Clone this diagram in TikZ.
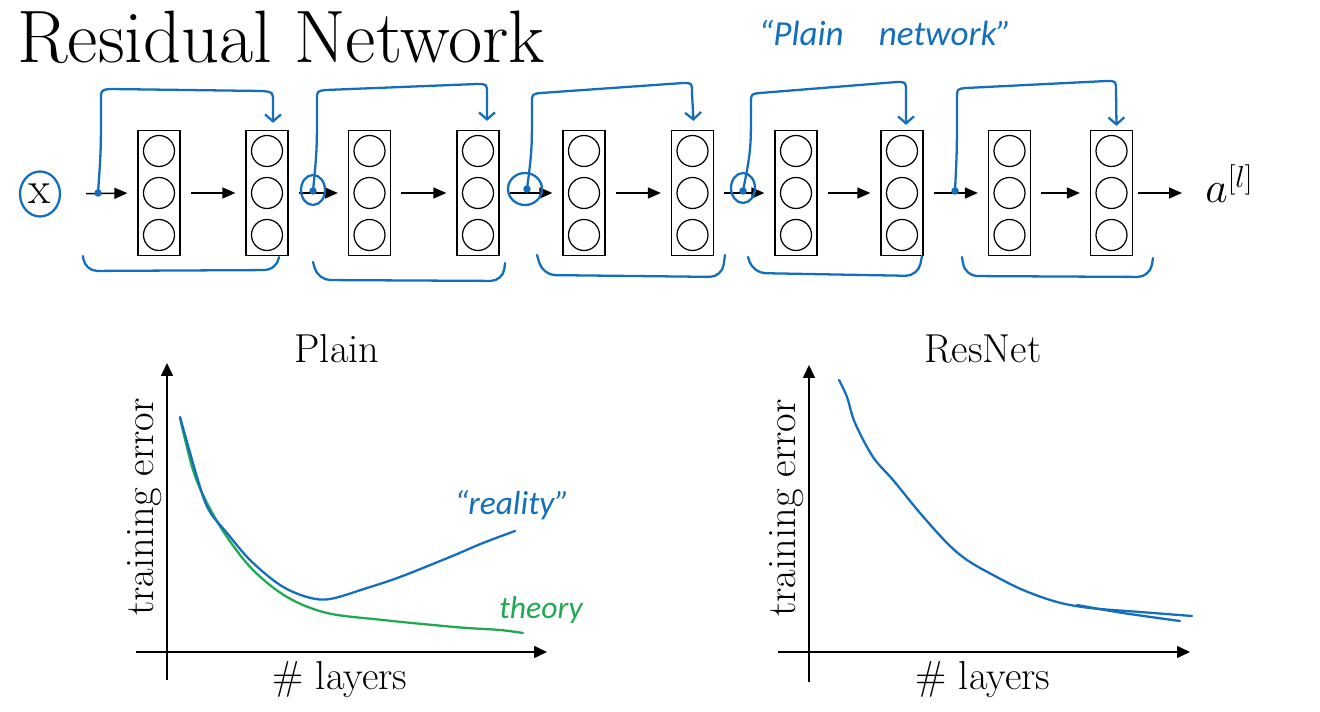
\documentclass[tikz,border=0pt]{standalone}
\usepackage{fontspec}
\newfontfamily\handfont{Carlito}
\usetikzlibrary{arrows.meta,calc,shapes.geometric}
\definecolor{penblue}{RGB}{20,110,190}
\definecolor{pengreen}{RGB}{30,170,80}
\tikzset{
  layerbox/.style={draw, line width=0.7pt, minimum width=0.84cm, minimum height=2.5cm, inner sep=0pt},
  neuron/.style={draw, circle, line width=0.7pt, minimum size=0.62cm, inner sep=0pt},
  fwd/.style={line width=0.9pt, -{Triangle[length=0.26cm,width=0.22cm]}, shorten <=0.2cm, shorten >=0.2cm},
  hand/.style={penblue, line width=1.3pt, line cap=round, line join=round},
  handtip/.style={hand, -{Straight Barb[length=0.14cm,width=0.32cm]}},
  axis/.style={line width=0.9pt, -{Triangle[length=0.26cm,width=0.24cm]}},
  lbl/.style={font=\fontsize{23}{27}\selectfont},
  handtxt/.style={font=\handfont\itshape\fontsize{19}{22}\selectfont},
}
\begin{document}
\begin{tikzpicture}[x=0.02cm,y=-0.02cm]
\useasboundingbox (0,0) rectangle (1320,712);

% title
\node[anchor=base west, inner sep=0pt, font=\fontsize{42.3}{48}\selectfont] (title) at (17,63) {Residual Network};

% layers
\foreach \i/\x in {1/159,2/267,3/369.5,4/478,5/584,6/692.5,7/796,8/902,9/1009.5,10/1111.5} {
  \node[layerbox] (L\i) at (\x,193) {};
  \node[neuron] (N\i-1) at (\x,151) {};
  \node[neuron] (N\i-2) at (\x,193) {};
  \node[neuron] (N\i-3) at (\x,235) {};
}

% input and output
\node[ellipse, draw=penblue, line width=1.3pt, minimum width=0.8cm, minimum height=0.9cm, inner sep=0pt,
      font=\fontsize{26}{30}\selectfont] (x) at (40,194) {x};
\node[anchor=base west, inner sep=0pt, font=\fontsize{26.5}{30}\selectfont] (a) at (1205,203) {$a^{[l]}$};

\draw[fwd, shorten <=0.5cm] (x.east) -- (L1.west);
\foreach \i/\j in {1/2,2/3,3/4,4/5,5/6,6/7,7/8,8/9,9/10}
  \draw[fwd] (L\i.east) -- (L\j.west);
\draw[fwd, shorten <=0.1cm, shorten >=0.46cm] (L10.east) -- (L10.east -| a.west);

% skip connections (hand drawn)
\coordinate (s1) at (98,193);
\coordinate (s2) at (313,191);
\coordinate (s3) at (527,189);
\coordinate (s4) at (743,191);
\coordinate (s5) at (955,191);
\foreach \s in {s1,s2,s3,s4,s5} \fill[penblue] (\s) circle[radius=0.075cm];
\draw[hand] (313,190) ellipse [x radius=0.24cm, y radius=0.3cm];
\draw[hand] (525,189) ellipse [x radius=0.34cm, y radius=0.32cm];
\draw[hand] (743,188) ellipse [x radius=0.24cm, y radius=0.3cm];

\draw[handtip] (s1) .. controls (101,150) .. (101,100) .. controls (101,90) .. (110,89)
  -- (262,91) .. controls (273,92) .. (273,102) -- ($(L2.north)+(6,-7)$);
\draw[handtip] (s2) .. controls (317,150) .. (317,100) .. controls (317,91) .. (326,90)
  -- (477,84) .. controls (487,84) .. (487,94) -- ($(L4.north)+(9,-9)$);
\draw[handtip] (s3) .. controls (532,150) .. (532,103) .. controls (532,94) .. (541,93)
  -- (683,83) .. controls (692,83) .. (692,93) -- ($(L6.north)+(1,-9)$);
\draw[handtip] (s4) .. controls (751,150) .. (751,103) .. controls (751,94) .. (760,93)
  -- (897,82) .. controls (906,82) .. (906,92) -- ($(L8.north)+(4,-5)$);
\draw[handtip] (s5) .. controls (957,150) .. (957,98) .. controls (957,89) .. (966,88)
  -- (1107,81) .. controls (1116,81) .. (1116,91) -- ($(L10.north)+(5,-4)$);

% bottom brackets
\draw[hand, rounded corners=7pt] (83,256) -- (85,271) -- (277,270) -- (279,257);
\draw[hand, rounded corners=7pt] (313,262) -- (318,280) -- (503,281) -- (505,263);
\draw[hand, rounded corners=7pt] (537,255) -- (543,275) -- (722,277) -- (725,255);
\draw[hand, rounded corners=7pt] (748,257) -- (753,273) -- (918,276) -- (922,256);
\draw[hand, rounded corners=7pt] (962,257) -- (965,276) -- (1150,277) -- (1153,258);

\node[handtxt, penblue, font=\handfont\itshape\fontsize{20}{24}\selectfont] (pn) at (885,33) {“Plain\quad network”};

% ---------- Plain plot ----------
\node[lbl] (plain) at (337,349) {Plain};
\draw[axis] (167,680) -- (167,363);
\draw[axis] (136,652) -- (547,652);
\node[lbl, anchor=base] (xl1) at (340,690) {\# layers};
\node[lbl, rotate=90, anchor=base] (yl1) at (153,507) {training error};
\draw[pengreen, line width=1.3pt, line cap=round] plot[smooth, tension=0.55] coordinates {
  (180,418) (193,470) (207,503) (227,537) (253,570) (287,597) (327,613) (383,620)
  (433,625) (467,628) (500,630) (523,633)};
\draw[penblue, line width=1.3pt, line cap=round] plot[smooth, tension=0.55] coordinates {
  (180,417) (200,487) (210,512) (227,533) (250,560) (280,585) (307,597) (330,599)
  (367,588) (400,577) (450,557) (483,543) (515,531)};
\node[handtxt, penblue] (real) at (512,505) {“reality”};
\node[handtxt, pengreen, font=\handfont\itshape\fontsize{18}{22}\selectfont] (theo) at (541,610) {theory};

% ---------- ResNet plot ----------
\node[lbl] (resnet) at (983,349) {ResNet};
\draw[axis] (809,682) -- (809,365);
\draw[axis] (778,652) -- (1190,652);
\node[lbl, anchor=base] (xl2) at (983,690) {\# layers};
\node[lbl, rotate=90, anchor=base] (yl2) at (795,508) {training error};
\draw[penblue, line width=1.3pt, line cap=round] plot[smooth, tension=0.55] coordinates {
  (839,380) (847,397) (855,423) (873,457) (893,480) (920,513) (947,543) (967,560)
  (993,575) (1023,590) (1057,602) (1090,608) (1140,612) (1192,616)};
\draw[penblue, line width=1.3pt, line cap=round] plot[smooth, tension=0.55] coordinates {
  (1077,605) (1123,613) (1180,621)};
\end{tikzpicture}
\end{document}
